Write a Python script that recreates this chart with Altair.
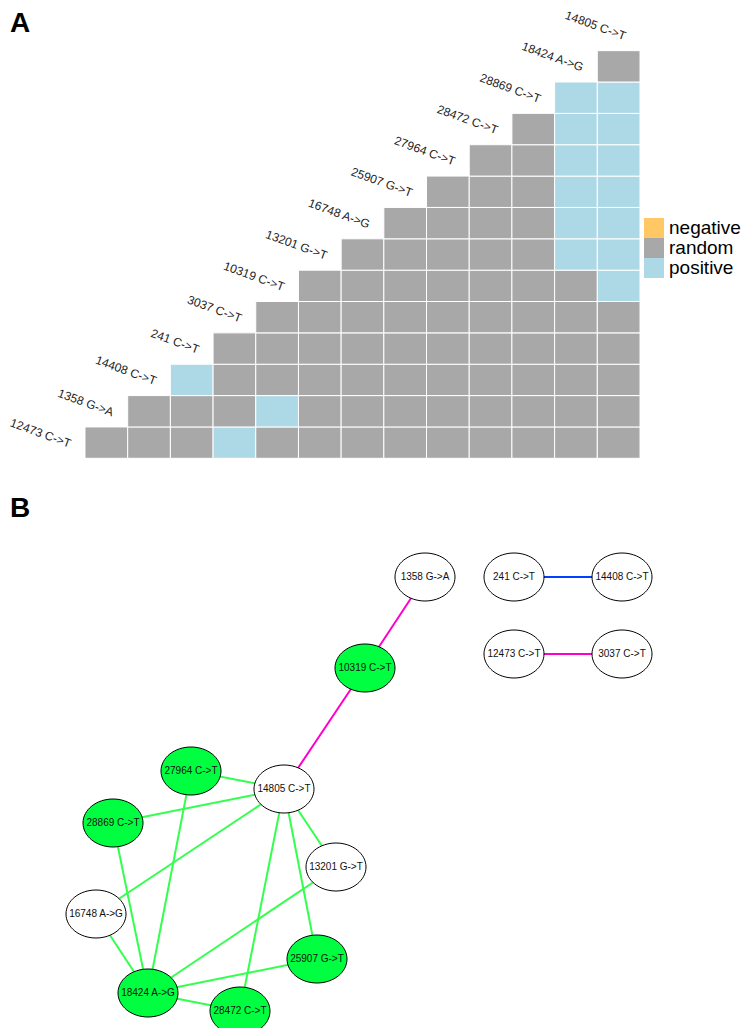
import altair as alt
import pandas as pd

# ---------------- Panel A data ----------------
variants = [
    "12473 C->T", "1358 G->A", "14408 C->T", "241 C->T", "3037 C->T",
    "10319 C->T", "13201 G->T", "16748 A->G", "25907 G->T", "27964 C->T",
    "28472 C->T", "28869 C->T", "18424 A->G", "14805 C->T",
]
positive_pairs = [
    ("14408 C->T", "241 C->T"),
    ("1358 G->A", "10319 C->T"),
    ("12473 C->T", "3037 C->T"),
    ("13201 G->T", "18424 A->G"), ("16748 A->G", "18424 A->G"),
    ("25907 G->T", "18424 A->G"), ("27964 C->T", "18424 A->G"),
    ("28472 C->T", "18424 A->G"), ("28869 C->T", "18424 A->G"),
    ("10319 C->T", "14805 C->T"), ("13201 G->T", "14805 C->T"),
    ("16748 A->G", "14805 C->T"), ("25907 G->T", "14805 C->T"),
    ("27964 C->T", "14805 C->T"), ("28472 C->T", "14805 C->T"),
    ("28869 C->T", "14805 C->T"),
]
negative_pairs = []
status_levels = ["negative", "random", "positive"]
status_colors = ["#FFC864", "#A8A8A8", "#ADD8E6"]

# ---------------- Panel B data ----------------
node_names = [
    "1358 G->A", "241 C->T", "14408 C->T", "12473 C->T", "3037 C->T",
    "10319 C->T", "27964 C->T", "14805 C->T", "28869 C->T", "13201 G->T",
    "16748 A->G", "25907 G->T", "18424 A->G", "28472 C->T",
]
node_x = [425, 514, 622, 514, 622, 365, 191, 284, 113, 336, 96, 317, 148, 240]
node_y = [577, 577, 577, 654, 654, 668, 771, 789, 823, 867, 914, 959, 993, 1011]
node_green = [False, False, False, False, False, True, True, False, True,
              False, False, True, True, True]

edge_from = [
    "1358 G->A", "10319 C->T", "241 C->T", "12473 C->T",
    "14805 C->T", "14805 C->T", "14805 C->T", "14805 C->T", "14805 C->T", "14805 C->T",
    "18424 A->G", "18424 A->G", "18424 A->G", "18424 A->G", "18424 A->G", "18424 A->G",
]
edge_to = [
    "10319 C->T", "14805 C->T", "14408 C->T", "3037 C->T",
    "27964 C->T", "28869 C->T", "16748 A->G", "13201 G->T", "25907 G->T", "28472 C->T",
    "28869 C->T", "27964 C->T", "16748 A->G", "13201 G->T", "25907 G->T", "28472 C->T",
]
edge_kind = ["magenta", "magenta", "blue", "magenta"] + ["green"] * 12
edge_palette = {"magenta": "#FF00CC", "blue": "#0040FF", "green": "#33FF4D"}

# ---------------- Tables ----------------
pos_set = {frozenset(p) for p in positive_pairs}
neg_set = {frozenset(p) for p in negative_pairs}
rows = []
for i in range(len(variants)):
    for j in range(i + 1, len(variants)):
        key = frozenset((variants[i], variants[j]))
        st = "positive" if key in pos_set else ("negative" if key in neg_set else "random")
        rows.append({"row": variants[i], "col": variants[j], "status": st})
cells = pd.DataFrame(rows)
diag = pd.DataFrame({"v": variants})

nodes = pd.DataFrame({
    "name": node_names, "x": node_x, "y": node_y,
    "fill": ["#00FF40" if g else "#FFFFFF" for g in node_green],
})
pos = {n: (x, y) for n, x, y in zip(node_names, node_x, node_y)}
edges = pd.DataFrame({
    "x": [pos[a][0] for a in edge_from], "y": [pos[a][1] for a in edge_from],
    "x2": [pos[b][0] for b in edge_to], "y2": [pos[b][1] for b in edge_to],
    "color": [edge_palette[k] for k in edge_kind],
})

FONT = "Liberation Sans"

# ---------------- Panel A ----------------
xs = alt.Scale(domain=variants, range=[34.3, 632], paddingInner=0, paddingOuter=0)
ys = alt.Scale(domain=variants[::-1], range=[11.3, 450.3], paddingInner=0, paddingOuter=0)

heat = alt.Chart(cells).mark_rect(stroke="white", strokeWidth=1).encode(
    x=alt.X("col:N", scale=xs, axis=None),
    y=alt.Y("row:N", scale=ys, axis=None),
    color=alt.Color(
        "status:N",
        scale=alt.Scale(domain=status_levels, range=status_colors),
        legend=alt.Legend(
            title=None, orient="none", legendX=636, legendY=210,
            symbolType="square", symbolSize=400, symbolStrokeWidth=0,
            symbolOpacity=1, labelFontSize=19, labelFont=FONT,
            labelColor="black", rowPadding=0, labelOffset=5, padding=0,
        ),
    ),
)
diag_text = alt.Chart(diag).mark_text(
    align="right", baseline="alphabetic", angle=20, fontSize=12,
    font=FONT, color="#222222", dx=7, dy=3,
).encode(
    x=alt.X("v:N", scale=xs, axis=None),
    y=alt.Y("v:N", scale=ys, axis=None),
    text="v:N",
)
panel_a = alt.layer(heat, diag_text)

# ---------------- Panel B ----------------
nxs = alt.Scale(domain=[8, 742], nice=False, zero=False)
nys = alt.Scale(domain=[8, 1028], reverse=True, nice=False, zero=False)
ellipse = "M -1 0 A 1 0.8 0 1 1 1 0 A 1 0.8 0 1 1 -1 0 Z"

edge_layer = alt.Chart(edges).mark_rule(strokeWidth=2).encode(
    x=alt.X("x:Q", scale=nxs, axis=None),
    y=alt.Y("y:Q", scale=nys, axis=None),
    x2="x2:Q", y2="y2:Q",
    color=alt.Color("color:N", scale=None),
)
node_layer = alt.Chart(nodes).mark_point(
    shape=ellipse, size=3600, filled=True, stroke="black", strokeWidth=1, opacity=1,
).encode(
    x=alt.X("x:Q", scale=nxs, axis=None),
    y=alt.Y("y:Q", scale=nys, axis=None),
    fill=alt.Fill("fill:N", scale=None),
)
node_text = alt.Chart(nodes).mark_text(fontSize=10, font=FONT, color="#111111").encode(
    x=alt.X("x:Q", scale=nxs, axis=None),
    y=alt.Y("y:Q", scale=nys, axis=None),
    text="name:N",
)
panel_b = alt.layer(edge_layer, node_layer, node_text)

# ---------------- Panel letters ----------------
letters = pd.DataFrame({"t": ["A", "B"]})
letter_a = alt.Chart(letters[letters.t == "A"]).mark_text(
    fontSize=28, fontWeight="bold", font=FONT, align="left", baseline="alphabetic", color="black"
).encode(x=alt.value(2), y=alt.value(24), text="t:N")
letter_b = alt.Chart(letters[letters.t == "B"]).mark_text(
    fontSize=28, fontWeight="bold", font=FONT, align="left", baseline="alphabetic", color="black"
).encode(x=alt.value(2), y=alt.value(509), text="t:N")

chart = alt.layer(panel_a, panel_b, letter_a, letter_b).resolve_scale(
    x="independent", y="independent"
).properties(
    width=734, height=1020, padding=0, autosize=alt.AutoSizeParams(type="none"),
).configure_view(stroke=None)

chart.save("out.html", embed_options={"renderer": "svg", "actions": False})
